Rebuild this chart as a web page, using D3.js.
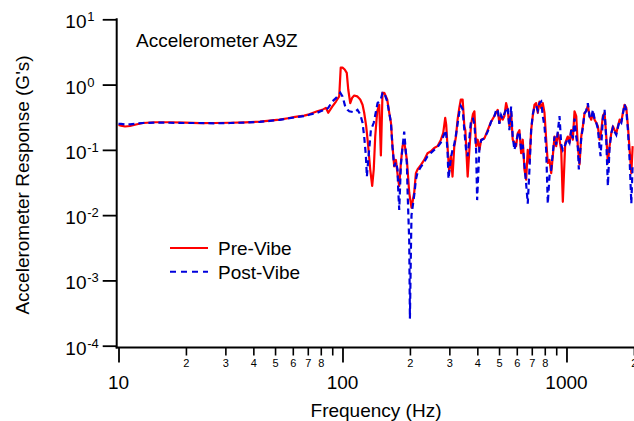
<!DOCTYPE html>
<html><head><meta charset="utf-8">
<script src="https://cdn.jsdelivr.net/npm/d3@7"></script>
<style>
body{margin:0;background:#fff}
svg{display:block}
text{font-family:"Liberation Sans",Arial,Helvetica,sans-serif;fill:#000}
</style>
</head><body>
<svg id="chart" width="634" height="421"></svg>
<script>
// ---------- data ----------
const chartTitle = "Accelerometer A9Z";
const xTitle = "Frequency (Hz)";
const yTitle = "Accelerometer Response (G's)";
const seriesNames = ["Pre-Vibe", "Post-Vibe"];
const seriesColors = ["#ff0000", "#0000dd"];
const xDomain = [10, 2000];
const yDomain = [1e-4, 10];
const yExponents = [1, 0, -1, -2, -3, -4];
const xMajorTicks = [10, 100, 1000];
const xMinorTicks = [20, 30, 40, 50, 60, 70, 80, 90, 200, 300, 400, 500, 600, 700, 800, 900, 2000];
const xMinorLabels = ["2", "3", "4", "5", "6", "7", "8", "", "2", "3", "4", "5", "6", "7", "8", "", "2"];

// [frequency Hz, response G]
const preVibe = [
[10,0.24],[10.26,0.235],[10.7,0.228],[11.25,0.232],[11.97,0.245],[12.86,0.258],[14.55,0.265],[16.97,0.265],
[19.83,0.262],[23.1,0.256],[26.9,0.258],[31.5,0.26],[36.7,0.264],[42.8,0.27],[47.4,0.28],[52.3,0.29],
[57.1,0.305],[61.5,0.32],[67.5,0.335],[71,0.35],[77.1,0.39],[81.2,0.41],[84.3,0.44],[86.4,0.37],
[90,0.46],[93.5,0.55],[96.7,0.66],[98.2,1.82],[100,1.82],[102.3,1.7],[104.5,1.51],[106.1,0.84],
[108.3,0.52],[110.5,0.63],[112.8,0.68],[116.3,0.66],[120,0.59],[122.9,0.49],[125,0.37],[127.6,0.23],
[130.3,0.113],[133,0.05],[135.7,0.028],[137.9,0.05],[140,0.16],[142.9,0.39],[145.9,0.49],[148.4,0.082],
[150.9,0.75],[153.6,0.75],[158.4,0.59],[161.7,0.37],[164.6,0.26],[167.2,0.114],[170.2,0.056],[173.2,0.07],
[177.3,0.035],[179.2,0.028],[182.3,0.063],[185.4,0.114],[188.6,0.135],[193.9,0.07],[198.6,0.022],[203.3,0.013],
[209,0.022],[212.7,0.044],[216.3,0.05],[224,0.059],[231.7,0.07],[239.7,0.089],[248.2,0.095],[256.7,0.107],
[265.6,0.114],[275.1,0.143],[281.6,0.18],[287.5,0.31],[290.4,0.244],[294.3,0.114],[299.5,0.046],[304.8,0.08],
[309.9,0.039],[315.4,0.11],[321.1,0.16],[326.5,0.29],[332.3,0.44],[337.5,0.59],[343.9,0.59],[350,0.23],
[353.6,0.2],[362.1,0.039],[368.5,0.1],[375,0.244],[382.1,0.35],[388.1,0.39],[395,0.114],[401.5,0.143],
[408.7,0.1],[416,0.143],[430.1,0.15],[444.9,0.2],[460.7,0.27],[476.6,0.33],[485,0.37],[493.1,0.41],
[501.7,0.26],[510.6,0.33],[519.1,0.29],[528.3,0.33],[537.6,0.52],[546.6,0.41],[556.2,0.23],[566,0.37],
[575.4,0.143],[585.6,0.13],[595.9,0.114],[605.9,0.18],[616.6,0.2],[627.4,0.089],[637.9,0.143],[649.2,0.05],
[660.6,0.035],[671.6,0.1],[683.5,0.063],[695.5,0.2],[707.1,0.33],[719.6,0.49],[732.3,0.52],[744.5,0.37],
[757.7,0.55],[771,0.44],[783.9,0.52],[797.7,0.37],[811.8,0.143],[825.3,0.063],[839.9,0.07],[854.7,0.044],
[868.9,0.08],[884.3,0.16],[899.9,0.114],[914.9,0.18],[931,0.143],[947.4,0.1],[963.2,0.016],[987.3,0.128],
[1013.8,0.16],[1031.7,0.128],[1050,0.2],[1067.4,0.143],[1086.3,0.39],[1105.5,0.33],[1123.9,0.114],[1143.7,0.06],
[1163.9,0.16],[1183.3,0.23],[1204.2,0.37],[1225.4,0.39],[1245.8,0.48],[1267.8,0.33],[1290.2,0.29],[1311.7,0.37],
[1334.8,0.29],[1358.4,0.26],[1381,0.23],[1405.4,0.143],[1419.9,0.16],[1453.8,0.33],[1479.5,0.37],[1505.6,0.16],
[1530.6,0.063],[1557.6,0.114],[1585.1,0.18],[1611.5,0.23],[1640,0.2],[1668.9,0.18],[1696.7,0.23],[1726.6,0.29],
[1757.1,0.27],[1786.4,0.37],[1817.9,0.49],[1850,0.44],[1880.8,0.23],[1914,0.1],[1947.7,0.044],[1974.4,0.114]
];

const postVibe = [
[10,0.25],[10.26,0.25],[10.7,0.245],[11.25,0.245],[11.97,0.252],[12.86,0.258],[14.55,0.262],[16.97,0.26],
[19.83,0.258],[23.1,0.258],[26.9,0.255],[31.5,0.258],[36.7,0.262],[42.8,0.268],[47.4,0.278],[52.3,0.288],
[57.1,0.303],[61.5,0.315],[67.5,0.33],[71,0.345],[77.1,0.37],[81.2,0.4],[84.3,0.41],[86.4,0.44],
[90,0.55],[93.5,0.62],[97.7,0.75],[100,0.66],[102.9,0.46],[105.3,0.41],[107.2,0.39],[112.8,0.375],
[116.7,0.41],[120,0.35],[122.9,0.26],[125,0.16],[127.2,0.08],[128.5,0.039],[130.3,0.07],[133.9,0.2],
[137.9,0.26],[143.4,0.52],[145.9,0.55],[148.4,0.6],[150.9,0.75],[153.6,0.74],[158.4,0.55],[161.7,0.37],
[164.6,0.26],[167.2,0.11],[170.2,0.056],[173.2,0.065],[176.1,0.05],[177.3,0.025],[179.2,0.012],[182.3,0.06],
[185.4,0.11],[188.6,0.19],[193.9,0.06],[195.1,0.025],[198.6,0.004],[200,0.00026],[202.1,0.003],[203.3,0.01],
[209,0.02],[212.7,0.035],[216.3,0.045],[224,0.055],[231.7,0.065],[239.7,0.08],[248.2,0.09],[256.7,0.1],
[265.6,0.11],[275.1,0.13],[281.6,0.16],[289.5,0.2],[294.3,0.1],[297.4,0.036],[304.8,0.075],[309.9,0.1],
[315.4,0.12],[321.1,0.17],[326.5,0.25],[332.3,0.38],[337.5,0.47],[343.9,0.42],[350,0.2],[356.2,0.1],
[362.1,0.08],[368.5,0.15],[375,0.29],[382.1,0.3],[388.1,0.25],[395,0.1],[399.1,0.017],[408.7,0.11],
[416,0.14],[430.1,0.15],[444.9,0.19],[460.7,0.27],[476.6,0.33],[485,0.4],[493.1,0.42],[501.7,0.25],
[510.6,0.34],[519.1,0.3],[528.3,0.36],[537.6,0.41],[546.6,0.45],[556.2,0.2],[566,0.46],[575.4,0.16],
[585.6,0.1],[595.9,0.13],[605.9,0.17],[616.6,0.19],[627.4,0.1],[637.9,0.12],[649.2,0.06],[660.6,0.03],
[671.6,0.015],[683.5,0.05],[695.5,0.2],[707.1,0.35],[719.6,0.45],[732.3,0.47],[744.5,0.4],[757.7,0.52],
[771,0.55],[783.9,0.33],[797.7,0.23],[811.8,0.1],[825.3,0.015],[839.9,0.04],[854.7,0.05],[868.9,0.09],
[884.3,0.16],[899.9,0.12],[914.9,0.19],[931,0.33],[947.4,0.12],[963.2,0.1],[987.3,0.12],[1013.8,0.15],
[1031.7,0.13],[1050,0.2],[1067.4,0.15],[1086.3,0.3],[1105.5,0.16],[1123.9,0.11],[1135.5,0.05],[1163.9,0.15],
[1183.3,0.22],[1204.2,0.36],[1225.4,0.4],[1245.8,0.52],[1267.8,0.32],[1290.2,0.3],[1311.7,0.41],[1334.8,0.3],
[1358.4,0.26],[1381,0.21],[1405.4,0.11],[1419.9,0.08],[1453.8,0.3],[1479.5,0.41],[1505.6,0.14],[1530.6,0.028],
[1557.6,0.11],[1585.1,0.18],[1611.5,0.22],[1640,0.19],[1668.9,0.17],[1696.7,0.22],[1726.6,0.28],[1757.1,0.26],
[1786.4,0.36],[1817.9,0.5],[1850,0.4],[1880.8,0.2],[1914,0.07],[1947.7,0.015],[1974.4,0.06]
];

// ---------- chart ----------
const svg = d3.select("#chart");
svg.append("rect").attr("width", 634).attr("height", 421).attr("fill", "#fff");

const x = d3.scaleLog().domain(xDomain).range([118.5, 633.9]);
const y = d3.scaleLog().domain(yDomain).range([345.7, 19.3]);
const axisX0 = 116.7, axisY0 = 347.5;

// clip
svg.append("clipPath").attr("id", "plotclip").append("rect")
  .attr("x", axisX0).attr("y", 0).attr("width", 634 - axisX0).attr("height", axisY0);

// y axis
const yAxis = d3.axisLeft(y).tickValues(yExponents.map(e => Math.pow(10, e)))
  .tickSize(14).tickSizeOuter(0).tickFormat("");
const gy = svg.append("g").attr("transform", `translate(${axisX0},0)`).call(yAxis);
gy.select(".domain").remove();
gy.selectAll(".tick line").attr("stroke", "#000").attr("stroke-width", 1.8);
svg.append("line").attr("x1", axisX0).attr("x2", axisX0)
  .attr("y1", y(yDomain[1]) - 1).attr("y2", axisY0 + 1)
  .attr("stroke", "#000").attr("stroke-width", 2);

const yl = svg.append("g");
yExponents.forEach(e => {
  const ty = y(Math.pow(10, e));
  yl.append("text").attr("x", 86.5).attr("y", ty + 9).attr("text-anchor", "end")
    .style("font-size", "19px").text("10");
  yl.append("text").attr("x", 87.2).attr("y", ty + 2).attr("text-anchor", "start")
    .style("font-size", "13px").text(e < 0 ? "-" + Math.abs(e) : String(e));
});

// x axis
svg.append("line").attr("x1", axisX0 - 1).attr("x2", 634)
  .attr("y1", axisY0).attr("y2", axisY0).attr("stroke", "#000").attr("stroke-width", 2);
const xMajAxis = d3.axisBottom(x).tickValues(xMajorTicks).tickSize(15).tickSizeOuter(0).tickFormat("");
const gxM = svg.append("g").attr("transform", `translate(0,${axisY0})`).call(xMajAxis);
gxM.select(".domain").remove();
gxM.selectAll(".tick line").attr("stroke", "#000").attr("stroke-width", 1.8);
const xMinAxis = d3.axisBottom(x).tickValues(xMinorTicks).tickSize(8).tickSizeOuter(0)
  .tickFormat((d, i) => xMinorLabels[i]).tickPadding(4);
const gxm = svg.append("g").attr("transform", `translate(0,${axisY0})`).call(xMinAxis);
gxm.select(".domain").remove();
gxm.selectAll(".tick line").attr("stroke", "#000").attr("stroke-width", 1.6);
gxm.selectAll(".tick text").attr("fill", "#000").style("font-size", "11px")
  .style("font-family", "'Liberation Sans',Arial,sans-serif");

svg.append("g").selectAll("text").data(xMajorTicks).join("text")
  .attr("x", d => x(d)).attr("y", 389).attr("text-anchor", "middle")
  .style("font-size", "19px").text(d => String(d));

// titles
svg.append("text").attr("x", 376).attr("y", 417).attr("text-anchor", "middle")
  .style("font-size", "19px").text(xTitle);
svg.append("text").attr("transform", "translate(29,185) rotate(-90)")
  .attr("text-anchor", "middle").style("font-size", "19px").text(yTitle);
svg.append("text").attr("x", 136).attr("y", 47).style("font-size", "19px").text(chartTitle);

// lines
const line = d3.line().x(d => x(d[0])).y(d => y(d[1]));
const plot = svg.append("g").attr("clip-path", "url(#plotclip)");
plot.append("path").datum(preVibe).attr("d", line).attr("fill", "none")
  .attr("stroke", seriesColors[0]).attr("stroke-width", 2.2).attr("stroke-linejoin", "round");
plot.append("path").datum(postVibe).attr("d", line).attr("fill", "none")
  .attr("stroke", seriesColors[1]).attr("stroke-width", 2.2).attr("stroke-dasharray", "6,4");

// legend
const leg = svg.append("g");
[0, 1].forEach(i => {
  const ly = 248 + i * 23.7;
  leg.append("line").attr("x1", 170).attr("x2", 208).attr("y1", ly).attr("y2", ly)
    .attr("stroke", seriesColors[i]).attr("stroke-width", 2)
    .attr("stroke-dasharray", i === 1 ? "6,5" : null);
  leg.append("text").attr("x", 218).attr("y", ly + 7).style("font-size", "19px").text(seriesNames[i]);
});
</script>
</body></html>
